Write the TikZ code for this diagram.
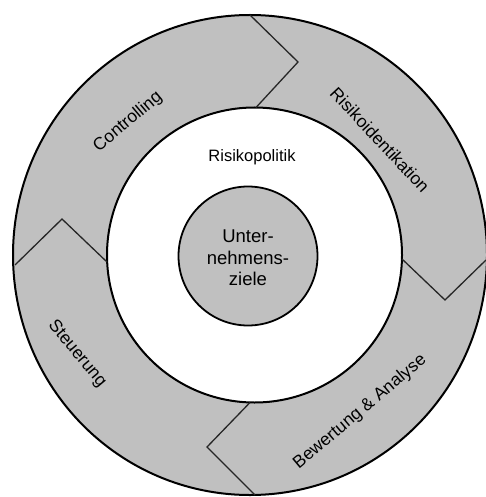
\documentclass[tikz,border=0pt]{standalone}
\usepackage{fontspec}
\setmainfont{Liberation Sans}
\definecolor{ringgray}{RGB}{192,192,192}
\tikzset{
  thickline/.style={line width=2pt, draw=black},
  divider/.style={line width=1.3pt, draw=black!85, line join=miter},
  lbl/.style={font=\fontsize{16.5}{20}\selectfont, inner sep=0pt, align=center},
  ringlbl/.style={font=\fontsize{17.5}{20}\selectfont, inner sep=0pt, align=center},
  centrelbl/.style={font=\fontsize{18.5}{21.5}\selectfont, inner sep=0pt, align=center}
}
\begin{document}
\begin{tikzpicture}[x=1pt,y=-1pt]
\useasboundingbox (0,0) rectangle (486,497);
% outer ring
\fill[ringgray] (250,255) ellipse [x radius=237, y radius=240];
\draw[thickline] (250,255) ellipse [x radius=237, y radius=240];
% inner white disc
\fill[white] (254.5,255) circle [radius=147.5];
\draw[thickline] (254.5,255) circle [radius=147.5];
% centre disc
\node[circle, fill=ringgray, draw=black, line width=1.8pt, minimum size=139pt, inner sep=0pt] (ziele) at (248,256) {};
\node[centrelbl] (zieltext) at (248,258) {Unter-\\nehmens-\\ziele};
% dividers
\coordinate (t1) at (250,15);  \coordinate (t2) at (298,62);  \coordinate (t3) at (256,107.5);
\coordinate (r1) at (402,259); \coordinate (r2) at (445,300); \coordinate (r3) at (486,260);
\coordinate (l1) at (15,265);  \coordinate (l2) at (62,219);  \coordinate (l3) at (107,262);
\coordinate (b1) at (250,402.5); \coordinate (b2) at (207,447); \coordinate (b3) at (255,495);
\draw[divider] (t1) -- (t2) -- (t3);
\draw[divider] (r1) -- (r2) -- (r3);
\draw[divider] (l1) -- (l2) -- (l3);
\draw[divider] (b1) -- (b2) -- (b3);
% labels
\node[lbl] (politik) at (252,157) {Risikopolitik};
\node[ringlbl, rotate=40] (controlling) at (128,122) {Controlling};
\node[ringlbl, rotate=-47] (ident) at (380,140) {Risikoidentikation};
\node[ringlbl, rotate=-50] (steuer) at (77,354) {Steuerung};
\node[ringlbl, rotate=40] (bewert) at (360,412) {Bewertung \& Analyse};
\end{tikzpicture}
\end{document}
